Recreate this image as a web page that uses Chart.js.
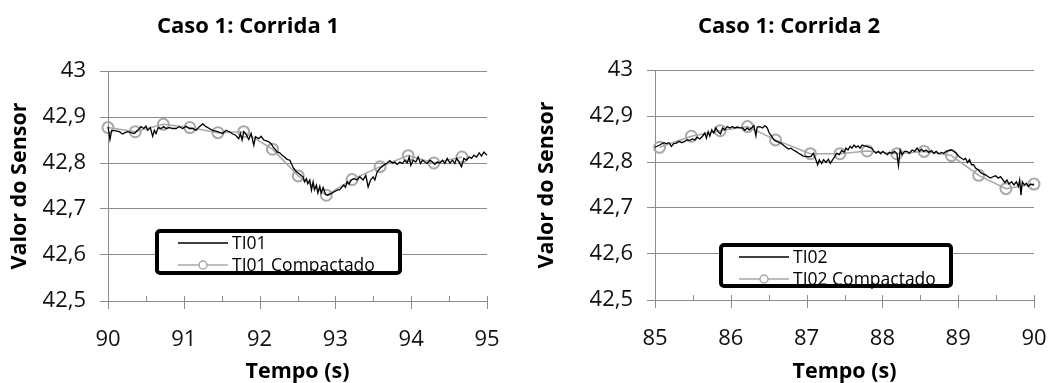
<!DOCTYPE html>
<html>
<head>
<meta charset="utf-8">
<script src="https://cdn.jsdelivr.net/npm/chart.js@4.4.1/dist/chart.umd.min.js"></script>
<style>
  html, body { margin: 0; background: #fff; overflow: hidden; }
  canvas { position: absolute; top: 0; }
  #run1 { left: 0; }
  #run2 { left: 527px; }
</style>
</head>
<body>
<canvas id="run1" width="500" height="383"></canvas>
<canvas id="run2" width="527" height="383"></canvas>
<script>
/* run 1: raw sensor TI01 */
const ti01Time = [
  90.000, 90.026, 90.048, 90.105, 90.149, 90.193, 90.224, 90.259, 90.303, 90.347,
  90.391, 90.435, 90.470, 90.501, 90.523, 90.558, 90.589, 90.611, 90.633, 90.664,
  90.699, 90.734, 90.765, 90.809, 90.853, 90.897, 90.941, 90.985, 91.029, 91.073,
  91.117, 91.161, 91.205, 91.249, 91.293, 91.337, 91.381, 91.447, 91.513, 91.557,
  91.601, 91.645, 91.681, 91.725, 91.747, 91.769, 91.791, 91.826, 91.857, 91.888,
  91.923, 91.945, 91.989, 92.020, 92.055, 92.090, 92.121, 92.152, 92.178, 92.209,
  92.231, 92.266, 92.297, 92.328, 92.363, 92.398, 92.429, 92.451, 92.486, 92.517,
  92.548, 92.574, 92.592, 92.618, 92.636, 92.662, 92.684, 92.706, 92.724, 92.750,
  92.768, 92.794, 92.812, 92.838, 92.869, 92.900, 92.935, 92.979, 93.023, 93.058,
  93.089, 93.111, 93.133, 93.155, 93.181, 93.208, 93.243, 93.287, 93.322, 93.366,
  93.401, 93.432, 93.463, 93.498, 93.520, 93.551, 93.586, 93.621, 93.652, 93.683,
  93.718, 93.753, 93.784, 93.815, 93.850, 93.885, 93.916, 93.947, 93.974, 93.995,
  94.026, 94.061, 94.092, 94.123, 94.149, 94.180, 94.211, 94.246, 94.281, 94.312,
  94.343, 94.378, 94.413, 94.444, 94.475, 94.510, 94.545, 94.576, 94.598, 94.633,
  94.664, 94.695, 94.730, 94.765, 94.796, 94.827, 94.862, 94.897, 94.928, 94.959,
  95.000
];
const ti01Value = [
  42.879, 42.851, 42.871, 42.870, 42.868, 42.863, 42.866, 42.868, 42.866, 42.864,
  42.871, 42.879, 42.875, 42.880, 42.871, 42.877, 42.858, 42.871, 42.864, 42.877,
  42.875, 42.879, 42.875, 42.877, 42.875, 42.875, 42.879, 42.875, 42.880, 42.875,
  42.875, 42.871, 42.879, 42.885, 42.879, 42.875, 42.871, 42.868, 42.864, 42.871,
  42.868, 42.863, 42.861, 42.853, 42.864, 42.850, 42.868, 42.861, 42.851, 42.864,
  42.839, 42.857, 42.853, 42.858, 42.850, 42.848, 42.846, 42.842, 42.835, 42.829,
  42.824, 42.822, 42.817, 42.813, 42.808, 42.806, 42.795, 42.788, 42.781, 42.777,
  42.773, 42.770, 42.759, 42.766, 42.755, 42.763, 42.741, 42.759, 42.742, 42.752,
  42.735, 42.749, 42.735, 42.747, 42.732, 42.730, 42.733, 42.737, 42.741, 42.742,
  42.748, 42.752, 42.747, 42.759, 42.754, 42.763, 42.766, 42.763, 42.770, 42.763,
  42.773, 42.748, 42.763, 42.770, 42.763, 42.781, 42.788, 42.793, 42.797, 42.800,
  42.805, 42.800, 42.802, 42.797, 42.802, 42.799, 42.806, 42.800, 42.813, 42.795,
  42.806, 42.802, 42.813, 42.799, 42.806, 42.802, 42.799, 42.806, 42.802, 42.797,
  42.802, 42.800, 42.806, 42.799, 42.810, 42.800, 42.806, 42.799, 42.810, 42.802,
  42.792, 42.810, 42.806, 42.813, 42.810, 42.817, 42.813, 42.822, 42.815, 42.824,
  42.817
];
const ti01cTime = [90.00, 90.36, 90.73, 91.08, 91.45, 91.79, 92.17, 92.51, 92.88, 93.22, 93.59, 93.96, 94.30, 94.67];
const ti01cValue = [42.877, 42.868, 42.884, 42.877, 42.866, 42.868, 42.830, 42.772, 42.730, 42.764, 42.792, 42.816, 42.800, 42.813];

/* run 2: raw sensor TI02 */
const ti02Time = [
  85.000, 85.062, 85.115, 85.150, 85.185, 85.216, 85.247, 85.282, 85.318, 85.353,
  85.393, 85.423, 85.459, 85.494, 85.525, 85.556, 85.591, 85.626, 85.657, 85.679,
  85.701, 85.723, 85.749, 85.776, 85.802, 85.833, 85.864, 85.890, 85.921, 85.952,
  85.987, 86.022, 86.053, 86.084, 86.119, 86.155, 86.185, 86.216, 86.243, 86.274,
  86.304, 86.331, 86.348, 86.384, 86.419, 86.450, 86.481, 86.507, 86.538, 86.569,
  86.604, 86.661, 86.692, 86.727, 86.762, 86.793, 86.824, 86.859, 86.895, 86.925,
  86.956, 86.991, 87.027, 87.058, 87.088, 87.115, 87.146, 87.168, 87.198, 87.225,
  87.256, 87.287, 87.313, 87.344, 87.370, 87.397, 87.432, 87.463, 87.494, 87.520,
  87.546, 87.573, 87.599, 87.626, 87.652, 87.679, 87.705, 87.732, 87.762, 87.793,
  87.828, 87.859, 87.890, 87.917, 87.947, 87.978, 88.005, 88.035, 88.066, 88.093,
  88.128, 88.159, 88.190, 88.212, 88.234, 88.260, 88.291, 88.326, 88.357, 88.392,
  88.427, 88.458, 88.489, 88.515, 88.546, 88.577, 88.612, 88.648, 88.678, 88.709,
  88.745, 88.780, 88.811, 88.841, 88.877, 88.912, 88.943, 88.974, 89.009, 89.044,
  89.075, 89.097, 89.123, 89.150, 89.176, 89.203, 89.229, 89.264, 89.295, 89.326,
  89.361, 89.397, 89.427, 89.458, 89.493, 89.529, 89.559, 89.590, 89.617, 89.643,
  89.670, 89.705, 89.736, 89.767, 89.793, 89.811, 89.828, 89.846, 89.872, 89.899,
  89.925, 89.956, 89.987, 90.000
];
const ti02Value = [
  42.832, 42.837, 42.842, 42.840, 42.842, 42.834, 42.840, 42.841, 42.845, 42.842,
  42.845, 42.848, 42.847, 42.850, 42.848, 42.854, 42.850, 42.856, 42.863, 42.852,
  42.866, 42.856, 42.870, 42.863, 42.874, 42.866, 42.861, 42.874, 42.870, 42.877,
  42.874, 42.877, 42.874, 42.876, 42.874, 42.874, 42.869, 42.874, 42.870, 42.874,
  42.879, 42.857, 42.876, 42.877, 42.874, 42.879, 42.874, 42.863, 42.856, 42.848,
  42.845, 42.841, 42.837, 42.832, 42.828, 42.830, 42.826, 42.823, 42.819, 42.816,
  42.813, 42.812, 42.811, 42.812, 42.819, 42.808, 42.794, 42.805, 42.797, 42.805,
  42.799, 42.806, 42.797, 42.805, 42.811, 42.819, 42.816, 42.825, 42.821, 42.830,
  42.826, 42.834, 42.830, 42.837, 42.832, 42.835, 42.830, 42.837, 42.835, 42.834,
  42.832, 42.830, 42.823, 42.819, 42.823, 42.818, 42.823, 42.819, 42.816, 42.821,
  42.819, 42.823, 42.819, 42.792, 42.826, 42.816, 42.823, 42.823, 42.819, 42.826,
  42.823, 42.830, 42.823, 42.828, 42.823, 42.826, 42.821, 42.825, 42.819, 42.823,
  42.818, 42.821, 42.819, 42.823, 42.825, 42.826, 42.823, 42.819, 42.812, 42.808,
  42.805, 42.808, 42.799, 42.805, 42.794, 42.794, 42.787, 42.783, 42.777, 42.774,
  42.772, 42.768, 42.765, 42.768, 42.770, 42.765, 42.768, 42.761, 42.755, 42.761,
  42.752, 42.757, 42.750, 42.757, 42.747, 42.761, 42.728, 42.757, 42.750, 42.754,
  42.747, 42.752, 42.750, 42.752
];
const ti02cTime = [85.06, 85.48, 85.86, 86.22, 86.59, 87.05, 87.44, 87.80, 88.19, 88.55, 88.91, 89.27, 89.63, 90.00];
const ti02cValue = [42.832, 42.856, 42.868, 42.877, 42.848, 42.818, 42.818, 42.824, 42.818, 42.823, 42.814, 42.771, 42.742, 42.752];

const yRange = [42.5, 43];
const run1Range = [90, 95];
const run2Range = [85, 90];

const FONT = "'Open Sans', Lato, sans-serif";
const GRID = "#8c8c8c";
const RAW = "#000000";
const PACKED = "#a8a8a8";

const toPoints = (ts, vs) => ts.map((t, i) => ({ x: t, y: vs[i] }));

// excel-ish frame: x tick marks, titles, boxed legend
const excelFrame = {
  id: "excelFrame",
  afterDraw(chart, args, opts) {
    const { ctx, chartArea: a, scales: { x } } = chart;
    ctx.save();

    ctx.strokeStyle = GRID;
    ctx.lineWidth = 1;
    for (let t = x.min; t <= x.max + 1e-9; t += 0.5) {
      const px = Math.round(x.getPixelForValue(t)) + 0.5;
      const major = Math.abs(t - Math.round(t)) < 1e-9;
      ctx.beginPath();
      ctx.moveTo(px, a.bottom - 5);
      ctx.lineTo(px, major ? a.bottom + 8 : a.bottom);
      ctx.stroke();
    }

    ctx.fillStyle = "#000";
    ctx.textAlign = "center";
    ctx.textBaseline = "middle";
    ctx.font = `bold 22px ${FONT}`;
    ctx.fillText(opts.title, opts.titleX, 27);
    ctx.font = `bold 21.5px ${FONT}`;
    ctx.fillText(opts.xTitle, (a.left + a.right) / 2, 372);
    ctx.save();
    ctx.translate(20, (a.top + a.bottom) / 2);
    ctx.rotate(-Math.PI / 2);
    ctx.fillText(opts.yTitle, 0, 0);
    ctx.restore();

    // legend box
    const b = opts.legend;
    ctx.beginPath();
    ctx.roundRect(b.left + 2, b.top + 2, b.width - 4, b.height - 4, 3);
    ctx.fillStyle = "#fff";
    ctx.fill();
    ctx.lineWidth = 4;
    ctx.strokeStyle = "#000";
    ctx.stroke();

    ctx.font = `17.5px ${FONT}`;
    ctx.textAlign = "left";
    chart.data.datasets.forEach((ds, i) => {
      const y = b.top + 14 + i * 22;
      const x0 = b.left + b.lineStart;
      ctx.strokeStyle = ds.borderColor;
      ctx.lineWidth = 1.5;
      ctx.beginPath();
      ctx.moveTo(x0, y);
      ctx.lineTo(x0 + 50, y);
      ctx.stroke();
      if (ds.pointRadius > 0) {
        ctx.beginPath();
        ctx.arc(x0 + 25, y, 4, 0, Math.PI * 2);
        ctx.fillStyle = "#fff";
        ctx.fill();
        ctx.stroke();
      }
      ctx.fillStyle = "#000";
      ctx.fillText(ds.label, x0 + 54, y + 1);
    });
    ctx.restore();
  },
};

Chart.register(excelFrame);

const makeRun = (id, cfg) =>
  new Chart(document.getElementById(id), {
    type: "line",
    data: {
      datasets: [
        {
          label: cfg.rawLabel,
          data: toPoints(cfg.rawTime, cfg.rawValue),
          borderColor: RAW,
          borderWidth: 1.3,
          pointRadius: 0,
          tension: 0,
          clip: 8,
        },
        {
          label: cfg.rawLabel + " Compactado",
          data: toPoints(cfg.cTime, cfg.cValue),
          borderColor: PACKED,
          borderWidth: 1.5,
          pointRadius: 5.5,
          pointBorderWidth: 2,
          pointBackgroundColor: "rgba(0,0,0,0)",
          pointBorderColor: PACKED,
          tension: 0,
          clip: 8,
        },
      ],
    },
    options: {
      responsive: false,
      animation: false,
      devicePixelRatio: 1,
      layout: { padding: { top: cfg.top, right: cfg.right, left: 0, bottom: 0 } },
      plugins: {
        legend: { display: false },
        tooltip: { enabled: false },
        excelFrame: cfg.frame,
      },
      scales: {
        x: {
          type: "linear",
          min: cfg.range[0],
          max: cfg.range[1],
          afterFit: (s) => { s.height = cfg.bottomBand; },
          ticks: {
            stepSize: 1,
            padding: 0,
            color: "#111",
            font: { family: FONT, size: 22 },
            maxRotation: 0,
          },
          // invisible tick marks only push the labels down
          grid: { display: true, drawOnChartArea: false, drawTicks: true, tickLength: 26, tickColor: "rgba(0,0,0,0)" },
          border: { display: true, color: GRID, width: 1 },
        },
        y: {
          min: yRange[0],
          max: yRange[1],
          afterFit: (s) => { s.width = cfg.leftBand; },
          ticks: {
            stepSize: 0.1,
            padding: 14,
            color: "#111",
            font: { family: FONT, size: 22 },
            callback: (v) => String(Math.round(v * 10) / 10).replace(".", ","),
          },
          grid: { color: GRID, lineWidth: 1, tickLength: 8, tickColor: GRID },
          border: { display: true, color: GRID, width: 1 },
        },
      },
    },
  });

makeRun("run1", {
  rawLabel: "TI01",
  rawTime: ti01Time, rawValue: ti01Value,
  cTime: ti01cTime, cValue: ti01cValue,
  range: run1Range,
  top: 71, right: 13, leftBand: 108, bottomBand: 82,
  frame: {
    title: "Caso 1: Corrida 1",
    titleX: 248,
    xTitle: "Tempo (s)",
    yTitle: "Valor do Sensor",
    legend: { left: 155, top: 229, width: 247, height: 46, lineStart: 23 },
  },
});

makeRun("run2", {
  rawLabel: "TI02",
  rawTime: ti02Time, rawValue: ti02Value,
  cTime: ti02cTime, cValue: ti02cValue,
  range: run2Range,
  top: 70, right: 20, leftBand: 128, bottomBand: 83,
  frame: {
    title: "Caso 1: Corrida 2",
    titleX: 262,
    xTitle: "Tempo (s)",
    yTitle: "Valor do Sensor",
    legend: { left: 192, top: 243, width: 234, height: 45, lineStart: 20 },
  },
});
</script>
</body>
</html>
